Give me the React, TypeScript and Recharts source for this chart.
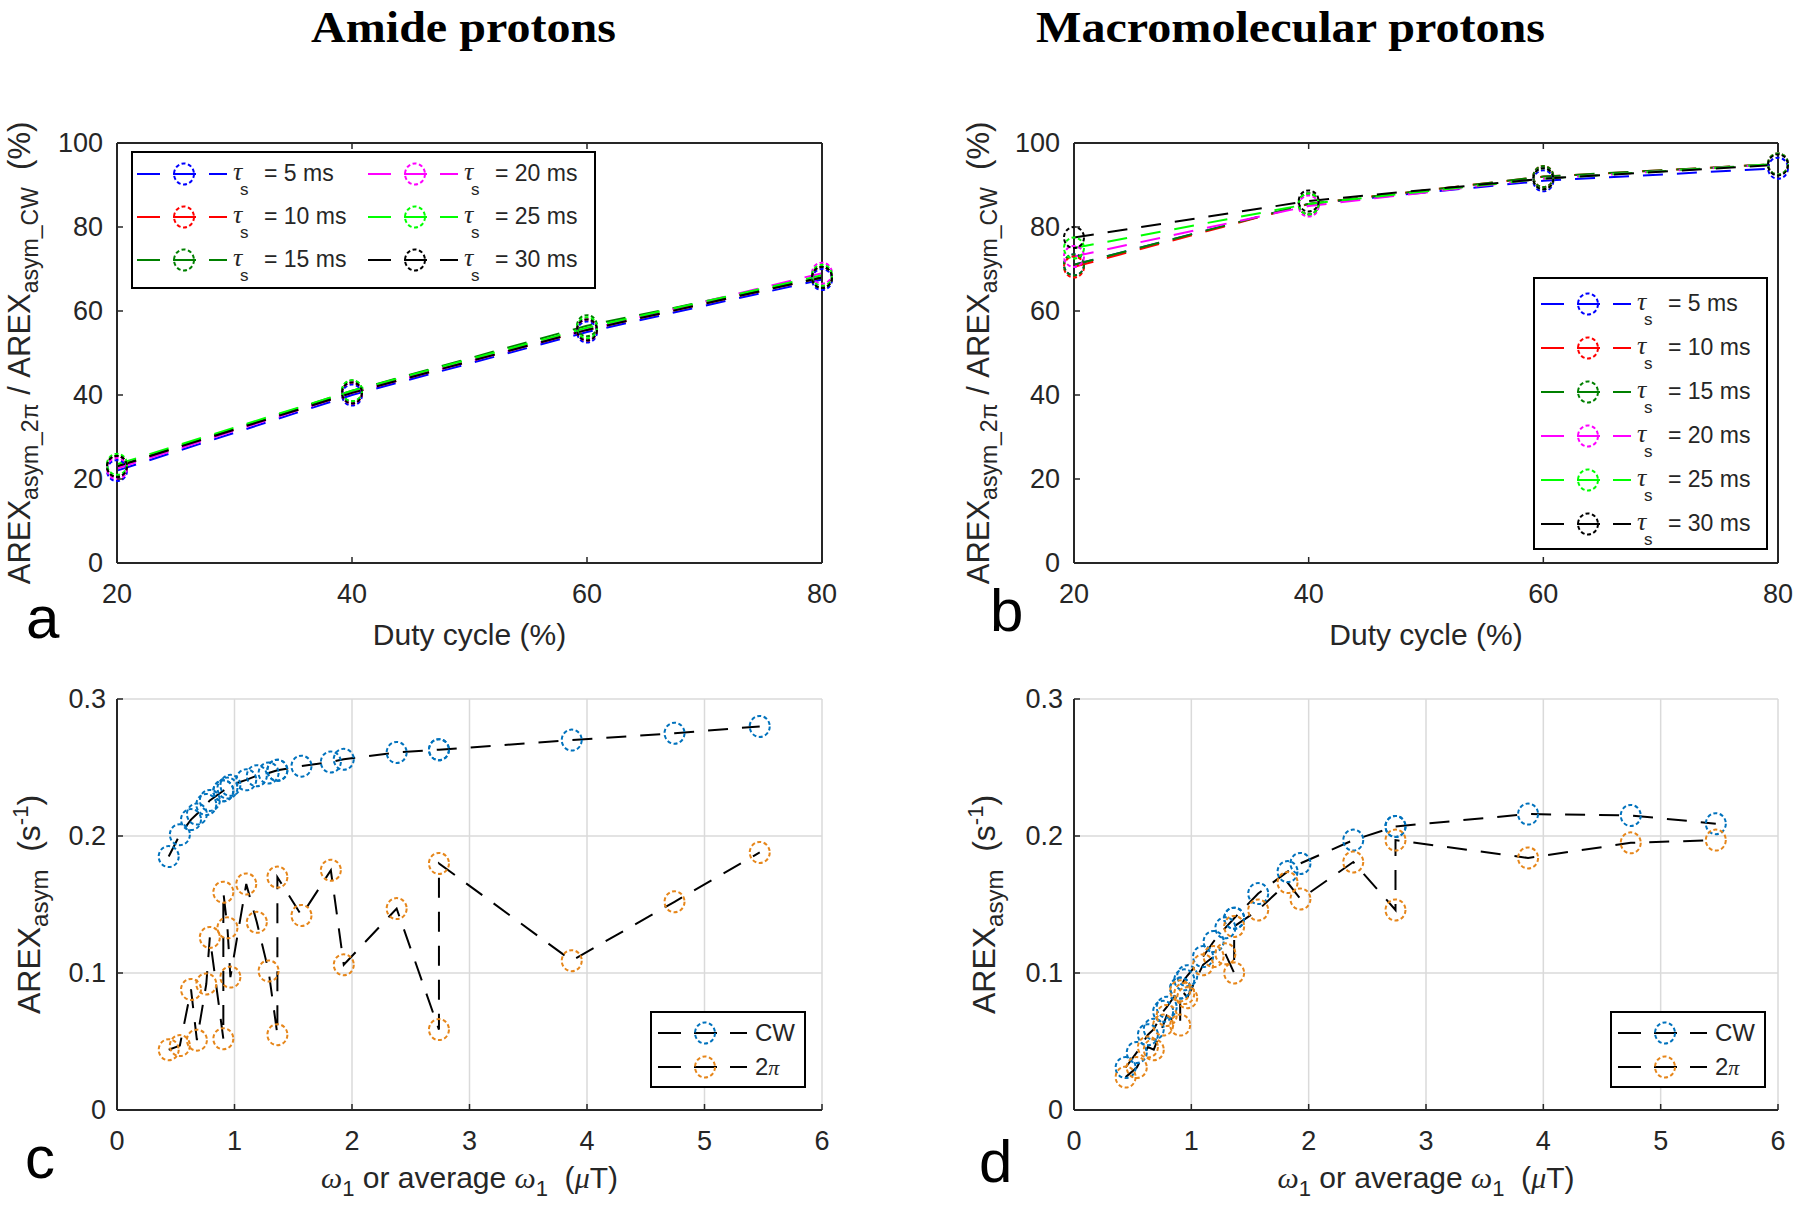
import React from "react"
import { LineChart, Line, XAxis, YAxis, CartesianGrid, Legend, Label } from "recharts"

// duty-cycle panels (a, b)
const dutyCycle = [20, 40, 60, 80]
const tauMs = [5, 10, 15, 20, 25, 30]

const amideTau5 = [22.0, 40.0, 55.0, 67.5]
const amideTau10 = [23.0, 40.5, 55.5, 68.0]
const amideTau15 = [23.0, 41.0, 56.5, 68.0]
const amideTau20 = [22.5, 40.5, 55.5, 69.0]
const amideTau25 = [23.5, 41.0, 56.0, 68.5]
const amideTau30 = [23.0, 40.5, 55.5, 68.0]

const macroTau5 = [71.0, 85.5, 91.0, 94.0]
const macroTau10 = [70.5, 85.5, 92.0, 95.0]
const macroTau15 = [71.0, 85.5, 92.0, 95.0]
const macroTau20 = [73.0, 85.0, 91.5, 95.0]
const macroTau25 = [75.0, 85.5, 91.5, 95.0]
const macroTau30 = [77.5, 86.2, 91.5, 94.8]

// omega1 panels (c, d)
const omega1 = [0.44, 0.535, 0.63, 0.68, 0.76, 0.79, 0.905, 0.905, 0.94, 0.965, 1.1, 1.19, 1.29, 1.365, 1.365, 1.57, 1.82, 1.93, 2.38, 2.74, 2.74, 3.87, 4.745, 5.47]
const amideCw = [0.185, 0.201, 0.212, 0.216, 0.223, 0.226, 0.233, 0.233, 0.235, 0.237, 0.241, 0.244, 0.246, 0.248, 0.248, 0.251, 0.254, 0.256, 0.261, 0.263, 0.263, 0.27, 0.275, 0.28]
const amide2pi = [0.044, 0.047, 0.088, 0.051, 0.092, 0.126, 0.052, 0.159, 0.133, 0.097, 0.165, 0.137, 0.1015, 0.055, 0.17, 0.142, 0.175, 0.106, 0.147, 0.0587, 0.18, 0.109, 0.152, 0.188]
const macroCw = [0.031, 0.042, 0.055, 0.059, 0.072, 0.075, 0.089, 0.089, 0.095, 0.098, 0.112, 0.123, 0.133, 0.14, 0.14, 0.158, 0.174, 0.18, 0.197, 0.207, 0.207, 0.216, 0.215, 0.209]
const macro2pi = [0.024, 0.031, 0.046, 0.044, 0.062, 0.069, 0.062, 0.087, 0.085, 0.082, 0.106, 0.112, 0.114, 0.1, 0.134, 0.146, 0.166, 0.154, 0.181, 0.146, 0.197, 0.184, 0.195, 0.197]

const dutyTicks = [20, 40, 60, 80]
const ratioTicks = [0, 20, 40, 60, 80, 100]
const omegaTicks = [0, 1, 2, 3, 4, 5, 6]
const arexTicks = [0, 0.1, 0.2, 0.3]

const SANS = "'Liberation Sans', Arial, Helvetica, sans-serif"
const SERIF = "'Liberation Serif', 'Times New Roman', serif"
const INK = "#262626"
const DASH = "20 14"
const LEG_DASH = "23 13"
const TICK_LEN = 6
const TAU_COLORS = ["#0000ff", "#ff0000", "#008000", "#ff00ff", "#00ff00", "#000000"]
const CW_COLOR = "#0072bd"
const PI_COLOR = "#e6861a"

type Box = { x: number; y: number; w: number; h: number }
const BOX_A: Box = { x: 117, y: 143, w: 705, h: 420 }
const BOX_B: Box = { x: 1074, y: 143, w: 704, h: 420 }
const BOX_C: Box = { x: 117, y: 699, w: 705, h: 411 }
const BOX_D: Box = { x: 1074, y: 699, w: 704, h: 411 }
const PAD = { l: 117, t: 40, r: 20, b: 100 }
const X_AXIS_H = 95

function tauRows(series: number[][]) {
  return dutyCycle.map((d, i) => {
    const row: Record<string, number> = { duty: d }
    series.forEach((s, k) => {
      row[`t${tauMs[k]}`] = s[i]
    })
    return row
  })
}

const amideRows = tauRows([amideTau5, amideTau10, amideTau15, amideTau20, amideTau25, amideTau30])
const macroRows = tauRows([macroTau5, macroTau10, macroTau15, macroTau20, macroTau25, macroTau30])
const points = (ys: number[]) => omega1.map((w, i) => ({ w, v: ys[i] }))

const ring = (color: string) => (p: any) => {
  if (p.cx == null || p.cy == null) return <g key={`e-${p.index}`} />
  return (
    <ellipse
      key={`${p.dataKey}-${p.index}`}
      cx={p.cx}
      cy={p.cy}
      rx={10}
      ry={10.5}
      fill="none"
      stroke={color}
      strokeWidth={2}
      strokeDasharray="4 2.5"
    />
  )
}

const tickFont = { fontFamily: SANS, fontSize: 27, fill: INK }

const bottomTick = (gap: number) => (p: any) => (
  <g>
    <line x1={p.x} y1={p.y} x2={p.x} y2={p.y - TICK_LEN} stroke={INK} strokeWidth={1.5} />
    <text x={p.x} y={p.y + gap} textAnchor="middle" dominantBaseline="central" {...tickFont}>
      {p.payload.value}
    </text>
  </g>
)
const leftTick = (gap: number) => (p: any) => (
  <g>
    <line x1={p.x} y1={p.y} x2={p.x + TICK_LEN} y2={p.y} stroke={INK} strokeWidth={1.5} />
    <text x={p.x - gap} y={p.y} textAnchor="end" dominantBaseline="central" {...tickFont}>
      {p.payload.value}
    </text>
  </g>
)
const topTick = (p: any) => <line x1={p.x} y1={p.y} x2={p.x} y2={p.y + TICK_LEN} stroke={INK} strokeWidth={1.5} />
const rightTick = (p: any) => <line x1={p.x} y1={p.y} x2={p.x - TICK_LEN} y2={p.y} stroke={INK} strokeWidth={1.5} />

const axisLine = { stroke: INK, strokeWidth: 2 }

const ratioTitle = (offset: number) => (props: any) => {
  const vb = props.viewBox
  const cx = vb.x + vb.width - offset
  const cy = vb.y + vb.height / 2
  return (
    <text
      transform={`rotate(-90 ${cx} ${cy})`}
      x={cx}
      y={cy}
      textAnchor="middle"
      fontFamily={SANS}
      fontSize={31}
      fill={INK}
      style={{ whiteSpace: "pre" }}
    >
      AREX<tspan dy={8} fontSize={23}>asym_2π</tspan>
      <tspan dy={-8}> / AREX</tspan>
      <tspan dy={8} fontSize={23}>asym_CW</tspan>
      <tspan dy={-8}>  (%)</tspan>
    </text>
  )
}

const arexTitle = (offset: number) => (props: any) => {
  const vb = props.viewBox
  const cx = vb.x + vb.width - offset
  const cy = vb.y + vb.height / 2
  return (
    <text
      transform={`rotate(-90 ${cx} ${cy})`}
      x={cx}
      y={cy}
      textAnchor="middle"
      fontFamily={SANS}
      fontSize={32}
      fill={INK}
      style={{ whiteSpace: "pre" }}
    >
      AREX<tspan dy={8} fontSize={24}>asym</tspan>
      <tspan dy={-8}>  (s</tspan>
      <tspan dy={-12} fontSize={22}>-1</tspan>
      <tspan dy={12}>)</tspan>
    </text>
  )
}

const dutyTitle = (below: number) => (props: any) => {
  const vb = props.viewBox
  return (
    <text x={vb.x + vb.width / 2} y={vb.y + below} textAnchor="middle" fontFamily={SANS} fontSize={30} fill={INK}>
      Duty cycle (%)
    </text>
  )
}

const omegaTitle = (below: number) => (props: any) => {
  const vb = props.viewBox
  return (
    <text
      x={vb.x + vb.width / 2}
      y={vb.y + below}
      textAnchor="middle"
      fontFamily={SANS}
      fontSize={30}
      fill={INK}
      style={{ whiteSpace: "pre" }}
    >
      <tspan fontFamily={SERIF} fontStyle="italic">ω</tspan>
      <tspan dy={8} fontSize={22}>1</tspan>
      <tspan dy={-8}> or average </tspan>
      <tspan fontFamily={SERIF} fontStyle="italic">ω</tspan>
      <tspan dy={8} fontSize={22}>1</tspan>
      <tspan dy={-8}>  (</tspan>
      <tspan fontFamily={SERIF} fontStyle="italic">μ</tspan>
      <tspan>T)</tspan>
    </text>
  )
}

function TauLegend({ w, h, cols, rowTop, rowGap, colGap, inset }: { w: number; h: number; cols: number; rowTop: number; rowGap: number; colGap: number; inset: number }) {
  const rows = Math.ceil(tauMs.length / cols)
  return (
    <svg width={w} height={h} style={{ display: "block", overflow: "visible" }}>
      <rect x={1} y={1} width={w - 2} height={h - 2} fill="#fff" stroke="#000" strokeWidth={2} />
      {tauMs.map((t, i) => {
        const ox = inset + Math.floor(i / rows) * colGap
        const oy = rowTop + (i % rows) * rowGap
        const color = TAU_COLORS[i]
        return (
          <g key={t}>
            <line x1={ox + 6} x2={ox + 96} y1={oy} y2={oy} stroke={color} strokeWidth={2} strokeDasharray={LEG_DASH} />
            <ellipse cx={ox + 53} cy={oy} rx={10} ry={10.5} fill="none" stroke={color} strokeWidth={2} strokeDasharray="4 2.5" />
            <text x={ox + 102} y={oy + 6} fontFamily={SERIF} fontStyle="italic" fontSize={26} fill={INK}>τ</text>
            <text x={ox + 109} y={oy + 21} fontFamily={SANS} fontSize={17} fill={INK}>s</text>
            <text x={ox + 133} y={oy + 7} fontFamily={SANS} fontSize={23} fill={INK} style={{ whiteSpace: "pre" }}>
              {`= ${t} ms`}
            </text>
          </g>
        )
      })}
    </svg>
  )
}

function PulseLegend() {
  const w = 156
  const h = 77
  const entries = [
    { key: "cw", color: CW_COLOR, y: 22 },
    { key: "2pi", color: PI_COLOR, y: 56 },
  ]
  return (
    <svg width={w} height={h} style={{ display: "block", overflow: "visible" }}>
      <rect x={1} y={1} width={w - 2} height={h - 2} fill="#fff" stroke="#000" strokeWidth={2} />
      {entries.map((e) => (
        <g key={e.key}>
          <line x1={8} x2={97} y1={e.y} y2={e.y} stroke="#000" strokeWidth={2} strokeDasharray={LEG_DASH} />
          <ellipse cx={55} cy={e.y} rx={10} ry={10.5} fill="none" stroke={e.color} strokeWidth={2} strokeDasharray="4 2.5" />
          {e.key === "cw" ? (
            <text x={105} y={e.y + 8} fontFamily={SANS} fontSize={24} fill={INK}>CW</text>
          ) : (
            <text x={105} y={e.y + 8} fontFamily={SANS} fontSize={24} fill={INK}>
              2<tspan fontFamily={SERIF} fontStyle="italic" fontSize={22}>π</tspan>
            </text>
          )}
        </g>
      ))}
    </svg>
  )
}

function frameStyle(box: Box): React.CSSProperties {
  return { position: "absolute", left: box.x - PAD.l, top: box.y - PAD.t }
}

function DutyPanel({ box, rows, legend, titleOffset }: { box: Box; rows: Record<string, number>[]; legend: React.ReactNode; titleOffset: number }) {
  const W = box.w + PAD.l + PAD.r
  const H = box.h + PAD.t + PAD.b
  return (
    <div style={frameStyle(box)}>
      <LineChart width={W} height={H} data={rows} margin={{ top: PAD.t - 1, right: PAD.r - 1, bottom: PAD.b - X_AXIS_H, left: 0 }}>
        <XAxis dataKey="duty" type="number" domain={[20, 80]} ticks={dutyTicks} interval={0} height={X_AXIS_H} tickSize={0} tickMargin={0} tickLine={false} axisLine={axisLine} tick={bottomTick(31)}>
          <Label content={dutyTitle(82)} />
        </XAxis>
        <XAxis xAxisId="top" orientation="top" dataKey="duty" type="number" domain={[20, 80]} ticks={dutyTicks} interval={0} height={1} tickSize={0} tickMargin={0} tickLine={false} axisLine={axisLine} tick={topTick} />
        <YAxis type="number" domain={[0, 100]} ticks={ratioTicks} interval={0} width={PAD.l} tickSize={0} tickMargin={0} tickLine={false} axisLine={axisLine} tick={leftTick(14)}>
          <Label content={ratioTitle(titleOffset)} />
        </YAxis>
        <YAxis yAxisId="right" orientation="right" type="number" domain={[0, 100]} ticks={ratioTicks} interval={0} width={1} tickSize={0} tickMargin={0} tickLine={false} axisLine={axisLine} tick={rightTick} />
        {tauMs.map((t, i) => (
          <Line
            key={t}
            dataKey={`t${t}`}
            stroke={TAU_COLORS[i]}
            strokeWidth={2}
            strokeDasharray={DASH}
            dot={ring(TAU_COLORS[i])}
            activeDot={false}
            isAnimationActive={false}
          />
        ))}
        {legend}
      </LineChart>
    </div>
  )
}

function OmegaPanel({ box, cw, pulsed, titleOffset, legendLeft }: { box: Box; cw: number[]; pulsed: number[]; titleOffset: number; legendLeft: number }) {
  const W = box.w + PAD.l + PAD.r
  const H = box.h + PAD.t + PAD.b
  return (
    <div style={frameStyle(box)}>
      <LineChart width={W} height={H} margin={{ top: PAD.t, right: PAD.r, bottom: PAD.b - X_AXIS_H, left: 0 }}>
        <CartesianGrid stroke="#dadada" strokeWidth={1.5} />
        <XAxis dataKey="w" type="number" domain={[0, 6]} ticks={omegaTicks} interval={0} height={X_AXIS_H} tickSize={0} tickMargin={0} tickLine={false} axisLine={axisLine} tick={bottomTick(31)}>
          <Label content={omegaTitle(78)} />
        </XAxis>
        <YAxis type="number" domain={[0, 0.3]} ticks={arexTicks} interval={0} width={PAD.l} tickSize={0} tickMargin={0} tickLine={false} axisLine={axisLine} tick={leftTick(11)}>
          <Label content={arexTitle(titleOffset)} />
        </YAxis>
        <Line data={points(cw)} dataKey="v" stroke="#000" strokeWidth={2} strokeDasharray={DASH} dot={ring(CW_COLOR)} activeDot={false} isAnimationActive={false} />
        <Line data={points(pulsed)} dataKey="v" stroke="#000" strokeWidth={2} strokeDasharray={DASH} dot={ring(PI_COLOR)} activeDot={false} isAnimationActive={false} />
        <Legend
          layout="vertical"
          align="center"
          verticalAlign="middle"
          wrapperStyle={{ left: legendLeft, top: 352, width: 156, height: 77 }}
          content={() => <PulseLegend />}
        />
      </LineChart>
    </div>
  )
}

export default function App() {
  return (
    <div style={{ position: "absolute", left: 0, top: 0, width: 1800, height: 1209, overflow: "hidden", background: "#fff" }}>
      <svg width={1800} height={1209} style={{ position: "absolute", left: 0, top: 0 }}>
        <text x={311} y={42} textLength={305} lengthAdjust="spacingAndGlyphs" fontFamily={SERIF} fontWeight="bold" fontSize={45} fill="#000">
          Amide protons
        </text>
        <text x={1036} y={42} textLength={509} lengthAdjust="spacingAndGlyphs" fontFamily={SERIF} fontWeight="bold" fontSize={45} fill="#000">
          Macromolecular protons
        </text>
        <text x={26} y={638} fontFamily={SANS} fontSize={60} fill="#000">a</text>
        <text x={990} y={631} fontFamily={SANS} fontSize={60} fill="#000">b</text>
        <text x={25} y={1178} fontFamily={SANS} fontSize={60} fill="#000">c</text>
        <text x={979} y={1182} fontFamily={SANS} fontSize={60} fill="#000">d</text>
      </svg>

      <DutyPanel
        box={BOX_A}
        rows={amideRows}
        titleOffset={87}
        legend={
          <Legend
            layout="vertical"
            align="center"
            verticalAlign="middle"
            wrapperStyle={{ left: 131, top: 48, width: 465, height: 138 }}
            content={() => <TauLegend w={465} h={138} cols={2} rowTop={23} rowGap={43} colGap={231} inset={0} />}
          />
        }
      />
      <DutyPanel
        box={BOX_B}
        rows={macroRows}
        titleOffset={85}
        legend={
          <Legend
            layout="vertical"
            align="center"
            verticalAlign="middle"
            wrapperStyle={{ left: 576, top: 174, width: 235, height: 273 }}
            content={() => <TauLegend w={235} h={273} cols={1} rowTop={27} rowGap={44} colGap={0} inset={2} />}
          />
        }
      />
      <OmegaPanel box={BOX_C} cw={amideCw} pulsed={amide2pi} titleOffset={77} legendLeft={650} />
      <OmegaPanel box={BOX_D} cw={macroCw} pulsed={macro2pi} titleOffset={79} legendLeft={653} />
    </div>
  )
}
